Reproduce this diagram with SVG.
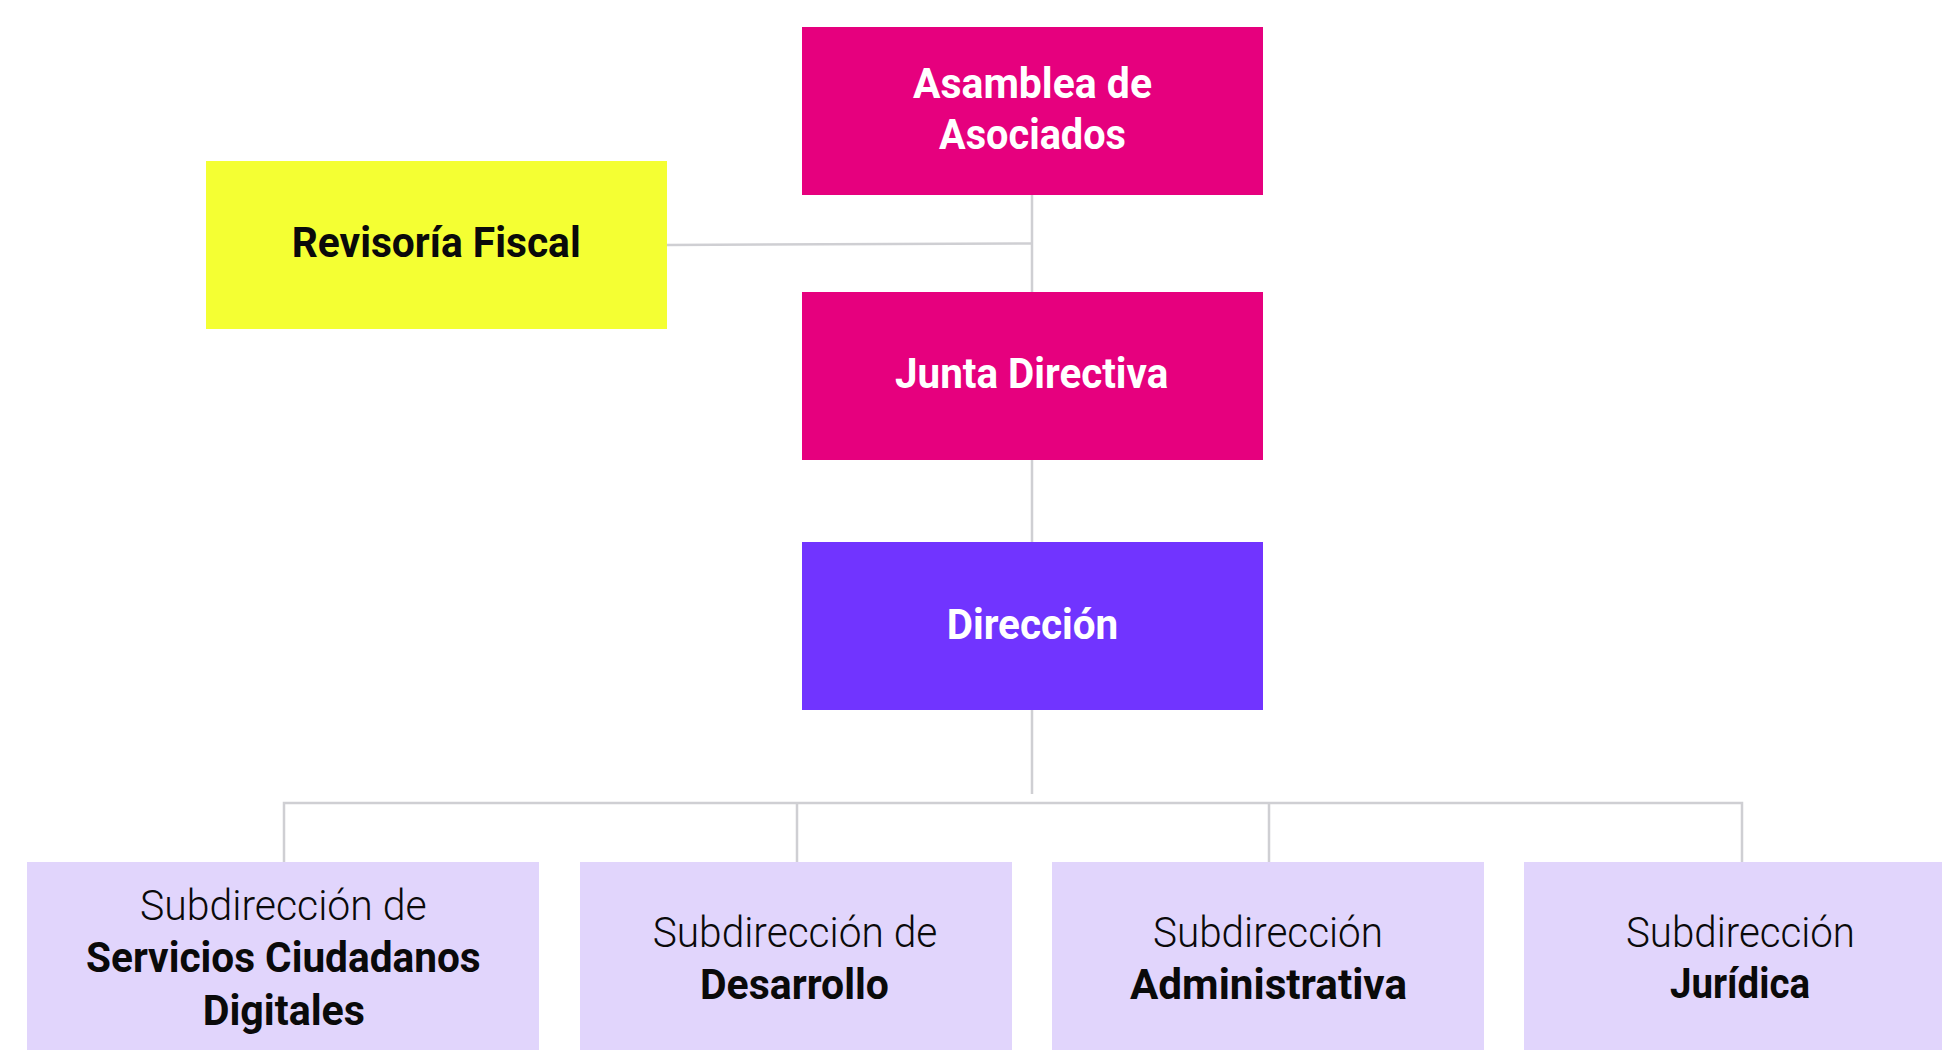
<svg xmlns="http://www.w3.org/2000/svg" width="1942" height="1050" viewBox="0 0 1942 1050">
  <style>
    .pink { fill: #E6007E; }
    .yellow { fill: #F4FF33; }
    .purple { fill: #7134FF; }
    .lav { fill: #E1D5FC; }
    .conn { stroke: #CFCFD3; stroke-width: 2.5; fill: none; }
    text { font-family: Roboto, "Open Sans", "Liberation Sans", sans-serif; font-size: 42.7px; }
    .b { font-weight: 700; }
    .r { font-weight: 300; }
    .w { fill: #FFFFFF; }
    .k { fill: #0A0A0A; }
  </style>
  <rect width="1942" height="1050" fill="#FFFFFF"/>
  <g id="connectors">
    <line class="conn" x1="1032" y1="195" x2="1032" y2="292"/>
    <line class="conn" x1="667" y1="245" x2="1032" y2="243.5"/>
    <line class="conn" x1="1032" y1="460" x2="1032" y2="542"/>
    <line class="conn" x1="1032" y1="710" x2="1032" y2="794"/>
    <polyline class="conn" points="284,862 284,803 1742,803 1742,862"/>
    <line class="conn" x1="797" y1="803" x2="797" y2="862"/>
    <line class="conn" x1="1269" y1="803" x2="1269" y2="862"/>
  </g>
  <g id="asamblea">
    <rect class="pink" x="802" y="27" width="461" height="168"/>
    <text class="b w" x="913" y="98" textLength="239" lengthAdjust="spacingAndGlyphs">Asamblea de</text>
    <text class="b w" x="939" y="149.3" textLength="187" lengthAdjust="spacingAndGlyphs">Asociados</text>
  </g>
  <g id="revisoria">
    <rect class="yellow" x="206" y="161" width="461" height="168"/>
    <text class="b k" x="291.7" y="257" textLength="289" lengthAdjust="spacingAndGlyphs">Revisoría Fiscal</text>
  </g>
  <g id="junta">
    <rect class="pink" x="802" y="292" width="461" height="168"/>
    <text class="b w" x="895" y="388.3" textLength="273.3" lengthAdjust="spacingAndGlyphs">Junta Directiva</text>
  </g>
  <g id="direccion">
    <rect class="purple" x="802" y="542" width="461" height="168"/>
    <text class="b w" x="946.7" y="639.3" textLength="171.6" lengthAdjust="spacingAndGlyphs">Dirección</text>
  </g>
  <g id="sub-servicios">
    <rect class="lav" x="27" y="862" width="512" height="200"/>
    <text class="r k" x="140" y="920" textLength="286.7" lengthAdjust="spacingAndGlyphs">Subdirección de</text>
    <text class="b k" x="86" y="971.7" textLength="394.7" lengthAdjust="spacingAndGlyphs">Servicios Ciudadanos</text>
    <text class="b k" x="202.7" y="1025" textLength="162.3" lengthAdjust="spacingAndGlyphs">Digitales</text>
  </g>
  <g id="sub-desarrollo">
    <rect class="lav" x="580" y="862" width="432" height="200"/>
    <text class="r k" x="652.7" y="946.7" textLength="284.6" lengthAdjust="spacingAndGlyphs">Subdirección de</text>
    <text class="b k" x="700" y="999" textLength="189" lengthAdjust="spacingAndGlyphs">Desarrollo</text>
  </g>
  <g id="sub-administrativa">
    <rect class="lav" x="1052" y="862" width="432" height="200"/>
    <text class="r k" x="1153" y="946.7" textLength="230" lengthAdjust="spacingAndGlyphs">Subdirección</text>
    <text class="b k" x="1130" y="999.3" textLength="277" lengthAdjust="spacingAndGlyphs">Administrativa</text>
  </g>
  <g id="sub-juridica">
    <rect class="lav" x="1524" y="862" width="432" height="200"/>
    <text class="r k" x="1626" y="946.7" textLength="229" lengthAdjust="spacingAndGlyphs">Subdirección</text>
    <text class="b k" x="1670" y="998.3" textLength="140" lengthAdjust="spacingAndGlyphs">Jurídica</text>
  </g>
</svg>
